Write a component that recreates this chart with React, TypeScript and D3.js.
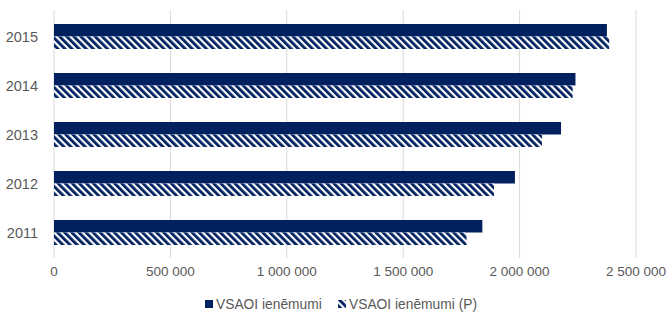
import React, { useEffect, useRef } from 'react';
import * as d3 from 'd3';

// values
const years = ['2011', '2012', '2013', '2014', '2015'];
const seriesNames = ['VSAOI ienēmumi', 'VSAOI ienēmumi (P)'];
const actual = [1840000, 1980000, 2178000, 2240000, 2375000];
const planned = [1772000, 1890000, 2096000, 2228000, 2385000];
const xTicks = [0, 500000, 1000000, 1500000, 2000000, 2500000];

const NAVY = '#002060';
const TEXT = '#595959';
const GRID = '#d9d9d9';
const FONT = '"Liberation Sans", Arial, sans-serif';

export default function App() {
  const svgRef = useRef<SVGSVGElement>(null);

  useEffect(() => {
    const svg = d3.select(svgRef.current);
    svg.selectAll('*').remove();

    const width = 670;
    const height = 315;

    const defs = svg.append('defs');
    const pat = defs.append('pattern')
      .attr('id', 'hatch')
      .attr('patternUnits', 'userSpaceOnUse')
      .attr('width', 5)
      .attr('height', 5)
      .attr('patternTransform', 'rotate(-45)');
    pat.append('rect').attr('width', 5).attr('height', 5).attr('fill', '#fff');
    pat.append('rect').attr('width', 2.8).attr('height', 5).attr('fill', NAVY);

    const x = d3.scaleLinear().domain([0, 2500000]).range([54, 636]);
    const y = d3.scaleBand<string>()
      .domain([...years].reverse())
      .range([12, 257])
      .paddingInner(0.49)
      .paddingOuter(0.245);
    const sub = d3.scaleBand<string>().domain(seriesNames).range([0, y.bandwidth()]);

    const loc = d3.formatLocale({ decimal: ',', thousands: '\u00a0', grouping: [3], currency: ['', ''] });
    const fmt = loc.format(',');

    // gridlines
    svg.append('g')
      .selectAll('line')
      .data(xTicks)
      .enter()
      .append('line')
      .attr('x1', (d) => x(d))
      .attr('x2', (d) => x(d))
      .attr('y1', 10)
      .attr('y2', 258)
      .attr('stroke', GRID)
      .attr('stroke-width', 1);

    // x tick labels
    svg.append('g')
      .selectAll('text')
      .data(xTicks)
      .enter()
      .append('text')
      .attr('x', (d) => x(d))
      .attr('y', 276)
      .attr('text-anchor', 'middle')
      .attr('fill', TEXT)
      .style('font-family', FONT)
      .style('font-size', '13.5px')
      .text((d) => fmt(d));

    // y labels
    svg.append('g')
      .selectAll('text')
      .data(years)
      .enter()
      .append('text')
      .attr('x', 38)
      .attr('y', (d) => y(d)! + y.bandwidth() / 2 + 5)
      .attr('text-anchor', 'end')
      .attr('fill', TEXT)
      .style('font-family', FONT)
      .style('font-size', '14.5px')
      .text((d) => d);

    // bars
    const series = [
      { name: seriesNames[0], values: actual, fill: NAVY },
      { name: seriesNames[1], values: planned, fill: 'url(#hatch)' },
    ];
    series.forEach((s) => {
      svg.append('g')
        .selectAll('rect')
        .data(years)
        .enter()
        .append('rect')
        .attr('x', x(0))
        .attr('y', (d) => y(d)! + sub(s.name)!)
        .attr('width', (d, i) => x(s.values[i]) - x(0))
        .attr('height', sub.bandwidth())
        .attr('fill', s.fill);
    });

    // legend
    const legend = svg.append('g').attr('transform', 'translate(0, 309)');
    const items = [
      { name: seriesNames[0], fill: NAVY, x: 205 },
      { name: seriesNames[1], fill: 'url(#hatch)', x: 338 },
    ];
    items.forEach((it) => {
      legend.append('rect')
        .attr('x', it.x)
        .attr('y', -9)
        .attr('width', 8)
        .attr('height', 8)
        .attr('fill', it.fill);
      legend.append('text')
        .attr('x', it.x + 11)
        .attr('y', 0)
        .attr('fill', TEXT)
        .style('font-family', FONT)
        .style('font-size', '13.8px')
        .text(it.name);
    });

    svg.attr('width', width).attr('height', height);
  }, []);

  return (
    <svg
      ref={svgRef}
      width={670}
      height={315}
      style={{ position: 'absolute', left: 0, top: 0, background: '#fff' }}
    />
  );
}
